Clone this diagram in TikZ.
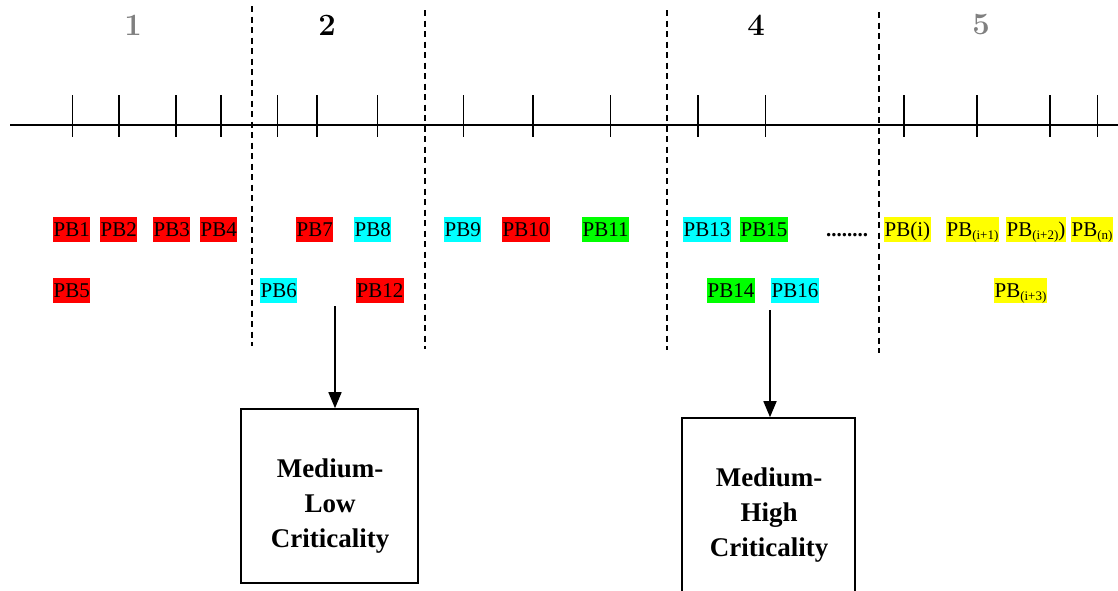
\documentclass[tikz,border=0pt]{standalone}
\usepackage{fontspec}
\newfontfamily\tnr{Liberation Serif}
\usetikzlibrary{arrows.meta}
\definecolor{pbred}{RGB}{255,0,0}
\definecolor{pbcyan}{RGB}{0,255,255}
\definecolor{pbgreen}{RGB}{0,255,0}
\definecolor{pbyellow}{RGB}{255,255,0}
\definecolor{phasegray}{RGB}{128,128,128}
\newcommand\pbsub[1]{\raisebox{-3pt}{\fontsize{13}{13}\selectfont #1}}
\tikzset{
  pb/.style={anchor=north west, inner xsep=0.4pt, inner ysep=0pt,
    text height=19.5pt, text depth=5.5pt, font=\tnr\fontsize{21}{25}\selectfont},
  pbr/.style={pb, fill=pbred},
  pbc/.style={pb, fill=pbcyan},
  pbg/.style={pb, fill=pbgreen},
  pby/.style={pb, fill=pbyellow},
  phase/.style={font=\bfseries\fontsize{31}{31}\selectfont, anchor=center},
  divider/.style={line width=1.8pt, dash pattern=on 6pt off 4.5pt},
  tick/.style={line width=1.5pt},
  critbox/.style={draw, line width=1.6pt, inner sep=0pt},
  crittext/.style={font=\tnr\bfseries\fontsize{27}{35}\selectfont, align=center},
  flow/.style={line width=1.6pt, -{Triangle[length=16pt,width=13pt]}}
}
\begin{document}
\begin{tikzpicture}[x=1pt, y=-1pt]
\clip (0,0) rectangle (1118,590);

% phase numbers
\node[phase, text=phasegray] (n1) at (133,25) {1};
\node[phase] (n2) at (327,25) {2};
\node[phase] (n4) at (756,25) {4};
\node[phase, text=phasegray] (n5) at (981,25) {5};

% time axis with ticks
\draw[line width=1.9pt] (10,125) -- (1118,125);
\foreach \x in {72.5,119,176,221,277.5,317,377.5,463.6,533,610.5,698,765.5,904,977,1050,1097.6}
  \draw[tick] (\x,95) -- (\x,137);

% phase dividers
\draw[divider] (252,6) -- (252,346);
\draw[divider] (425,10) -- (425,349);
\draw[divider] (667,10) -- (667,350);
\draw[divider] (879,12) -- (879,353);

% first row of blocks
\node[pbr] (pb1) at (53,217) {PB1};
\node[pbr] (pb2) at (100,217) {PB2};
\node[pbr] (pb3) at (153,217) {PB3};
\node[pbr] (pb4) at (200,217) {PB4};
\node[pbr] (pb7) at (296,217) {PB7};
\node[pbc] (pb8) at (354,217) {PB8};
\node[pbc] (pb9) at (444,217) {PB9};
\node[pbr] (pb10) at (502,217) {PB10};
\node[pbg] (pb11) at (582,217) {PB11};
\node[pbc] (pb13) at (683,217) {PB13};
\node[pbg] (pb15) at (740,217) {PB15};
\node[anchor=base west, inner sep=0pt, font=\tnr\bfseries\fontsize{21}{25}\selectfont] (dots) at (826,236.5) {........};
\node[pby] (pbi) at (884,217) {PB(i)};
\node[pby] (pbi1) at (946,217) {PB\pbsub{(i+1)}};
\node[pby] (pbi2) at (1006,217) {PB\pbsub{(i+2)})};
\node[pby] (pbn) at (1071,217) {PB\pbsub{(n)}};

% second row of blocks
\node[pbr] (pb5) at (53,278) {PB5};
\node[pbc] (pb6) at (260,278) {PB6};
\node[pbr] (pb12) at (356,278) {PB12};
\node[pbg] (pb14) at (707,278) {PB14};
\node[pbc] (pb16) at (771,278) {PB16};
\node[pby] (pbi3) at (994,278) {PB\pbsub{(i+3)}};

% criticality boxes
\node[critbox, minimum width=177pt, minimum height=174pt] (low) at (329.5,496) {};
\node[crittext] (lowtext) at (330,505.8) {Medium-\\Low\\Criticality};
\node[critbox, minimum width=173pt, minimum height=184pt] (high) at (768.5,510) {};
\node[crittext] (hightext) at (769,514.8) {Medium-\\High\\Criticality};

% arrows into the boxes
\coordinate (a1) at (335,306);
\coordinate (a2) at (770,310);
\draw[flow] (a1) -- (a1 |- low.north);
\draw[flow] (a2) -- (a2 |- high.north);
\end{tikzpicture}
\end{document}
